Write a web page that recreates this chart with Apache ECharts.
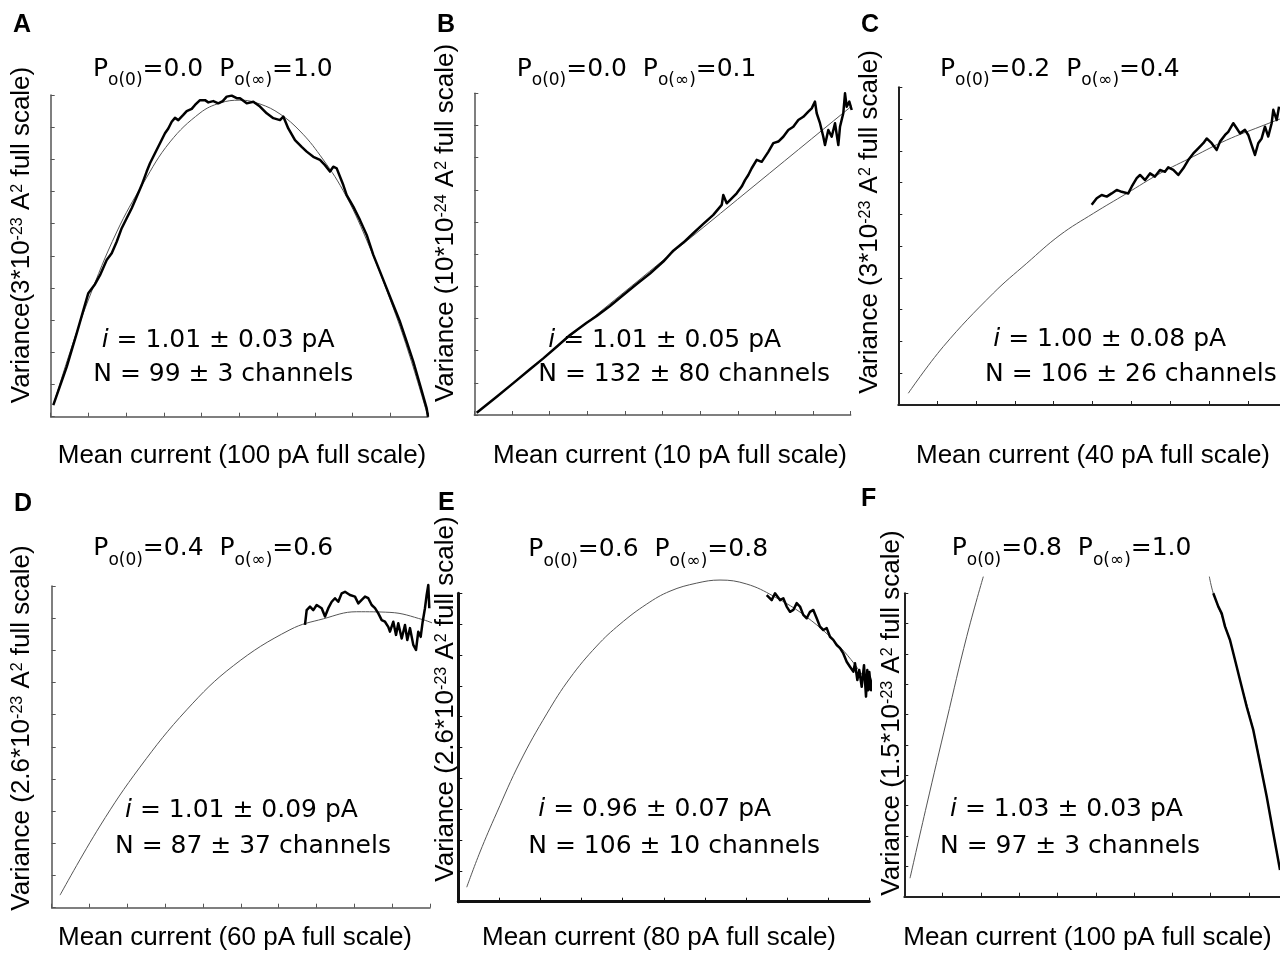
<!DOCTYPE html>
<html><head><meta charset="utf-8">
<script src="https://cdn.jsdelivr.net/npm/echarts@6/dist/echarts.min.js"></script>
<style>html,body{margin:0;padding:0;background:#fff}#c{width:1280px;height:959px}</style>
</head><body><div id="c"></div>
<script>
// ---- data (x: mean current in pA, y: variance as fraction of full scale) ----
const panelLetters = ['A','B','C','D','E','F'];
const fullScalePA = [100, 10, 40, 60, 80, 100];
const varScale = ['3', '10', '3', '2.6', '2.6', '1.5'];
const varExp = ['-23', '-24', '-23', '-23', '-23', '-23'];
const po0 = ['0.0', '0.0', '0.2', '0.4', '0.6', '0.8'];
const poInf = ['1.0', '0.1', '0.4', '0.6', '0.8', '1.0'];
const iVal = ['1.01 ± 0.03', '1.01 ± 0.05', '1.00 ± 0.08', '1.01 ± 0.09', '0.96 ± 0.07', '1.03 ± 0.03'];
const nVal = ['99 ± 3', '132 ± 80', '106 ± 26', '87 ± 37', '106 ± 10', '97 ± 3'];

const aData = [[0.69,0.036],[4.24,0.155],[6.89,0.259],[9.97,0.384],[11.74,0.412],[13.07,0.440],[14.84,0.487],[16.17,0.508],[17.49,0.544],[18.82,0.586],[20.14,0.617],[21.47,0.648],[22.79,0.684],[24.12,0.720],[25.44,0.762],[26.32,0.788],[27.64,0.819],[28.97,0.850],[30.29,0.881],[31.17,0.896],[32.07,0.917],[32.94,0.929],[33.82,0.922],[35.14,0.938],[36.05,0.950],[37.37,0.957],[38.25,0.969],[39.57,0.984],[40.90,0.984],[41.77,0.977],[43.10,0.981],[44.42,0.974],[45.59,0.981],[46.65,0.995],[47.97,0.998],[49.30,0.990],[50.17,0.990],[51.95,0.974],[53.70,0.979],[55.47,0.964],[57.25,0.943],[59.00,0.928],[60.77,0.922],[61.65,0.933],[62.97,0.896],[64.75,0.860],[66.52,0.839],[67.85,0.824],[69.60,0.808],[71.37,0.798],[72.70,0.782],[74.02,0.762],[74.90,0.777],[75.80,0.772],[77.55,0.720],[78.45,0.689],[80.20,0.653],[81.98,0.611],[83.75,0.565],[85.50,0.503],[87.28,0.451],[89.05,0.399],[90.80,0.347],[92.58,0.295],[94.35,0.233],[96.10,0.171],[97.88,0.099],[99.65,0.026],[100,0.0]];
const aFit = [[0.69,0.036],[5.12,0.201],[9.97,0.363],[17.49,0.574],[24.54,0.726],[31.62,0.854],[39.57,0.944],[44.87,0.975],[50.17,0.984],[55.47,0.972],[60.77,0.941],[66.07,0.888],[71.37,0.813],[77.55,0.702],[83.75,0.549],[90.80,0.338],[95.23,0.186],[100,0]];

const bData = [[0.064,0.007],[0.595,0.057],[1.036,0.099],[1.480,0.142],[1.833,0.176],[2.189,0.212],[2.543,0.249],[2.986,0.287],[3.252,0.308],[3.605,0.339],[3.959,0.373],[4.315,0.407],[4.668,0.440],[5.021,0.477],[5.287,0.511],[5.553,0.536],[5.818,0.565],[6.084,0.594],[6.350,0.622],[6.573,0.653],[6.615,0.684],[6.706,0.658],[6.793,0.668],[6.971,0.689],[7.104,0.710],[7.192,0.730],[7.280,0.746],[7.370,0.767],[7.503,0.793],[7.635,0.787],[7.811,0.818],[7.944,0.845],[8.077,0.850],[8.209,0.865],[8.342,0.886],[8.475,0.896],[8.608,0.917],[8.741,0.927],[8.874,0.943],[8.964,0.953],[9.051,0.974],[9.097,0.938],[9.184,0.907],[9.272,0.865],[9.317,0.839],[9.405,0.886],[9.495,0.865],[9.583,0.907],[9.671,0.839],[9.716,0.896],[9.803,0.938],[9.849,1.000],[9.894,0.958],[9.963,0.974],[10.027,0.948]];
const bFit = [[0.064,0.007],[10.20,0.977]];

const cData = [[19.92,0.630],[20.44,0.651],[20.95,0.661],[21.47,0.656],[21.98,0.666],[22.50,0.677],[23.01,0.671],[23.69,0.666],[24.04,0.687],[24.56,0.714],[24.90,0.724],[25.42,0.708],[25.93,0.729],[26.44,0.719],[26.96,0.740],[27.47,0.734],[27.81,0.748],[28.33,0.740],[28.84,0.724],[29.36,0.745],[29.87,0.771],[30.39,0.792],[30.90,0.808],[31.42,0.824],[31.77,0.839],[32.28,0.824],[32.80,0.803],[33.14,0.829],[33.66,0.850],[33.99,0.860],[34.51,0.887],[34.86,0.871],[35.20,0.855],[35.71,0.866],[36.05,0.850],[36.40,0.818],[36.74,0.787],[37.08,0.824],[37.43,0.839],[37.77,0.876],[38.11,0.845],[38.46,0.887],[38.63,0.929],[38.98,0.897],[39.22,0.939]];
const cFit = [[1.03,0.037],[4.64,0.184],[9.79,0.352],[13.23,0.446],[16.66,0.535],[20.09,0.603],[23.53,0.666],[26.96,0.729],[30.39,0.782],[33.83,0.834],[37.26,0.876],[39.83,0.906]];

const dData = [[40.17,0.879],[40.44,0.925],[40.97,0.936],[41.49,0.925],[42.03,0.941],[42.82,0.931],[43.35,0.905],[43.87,0.931],[44.41,0.951],[44.93,0.962],[45.45,0.951],[45.99,0.977],[46.52,0.982],[47.31,0.972],[48.10,0.967],[48.63,0.946],[49.17,0.957],[49.69,0.967],[50.21,0.962],[50.75,0.941],[51.28,0.931],[51.80,0.915],[52.34,0.894],[52.86,0.889],[53.38,0.873],[53.65,0.858],[54.18,0.889],[54.61,0.848],[54.97,0.884],[55.51,0.837],[56.03,0.879],[56.40,0.832],[56.83,0.869],[57.35,0.817],[57.78,0.801],[58.14,0.858],[58.52,0.842],[58.84,0.889],[59.20,0.931],[59.47,0.972],[59.73,1.003],[59.89,0.931]];
const dFit = [[1.32,0.039],[7.66,0.254],[14.00,0.437],[21.41,0.615],[28.80,0.752],[37.79,0.864],[43.08,0.898],[48.37,0.920],[53.65,0.918],[58.94,0.895],[61.06,0.879]];

const eData = [[60.03,0.994],[61.00,0.978],[61.65,1.000],[62.62,0.978],[63.26,0.984],[63.92,0.957],[64.57,0.940],[65.21,0.946],[65.87,0.968],[66.51,0.957],[67.15,0.930],[67.82,0.919],[68.46,0.940],[69.10,0.946],[69.76,0.919],[70.40,0.892],[71.05,0.881],[71.71,0.887],[72.35,0.859],[72.99,0.849],[73.66,0.832],[74.30,0.822],[74.94,0.805],[75.60,0.778],[76.24,0.762],[76.89,0.746],[77.22,0.773],[77.67,0.719],[78.05,0.751],[78.52,0.697],[78.97,0.767],[79.36,0.665],[79.61,0.751],[79.81,0.686],[80.00,0.745],[80.33,0.686],[80.72,0.725],[81.10,0.670],[81.49,0.706]];
const eFit = [[1.64,0.047],[4.22,0.161],[7.47,0.288],[12.01,0.453],[17.21,0.609],[21.74,0.725],[26.94,0.829],[31.48,0.900],[36.67,0.965],[41.21,1.007],[46.40,1.033],[50.94,1.043],[56.14,1.030],[61.31,0.991],[67.82,0.923],[74.30,0.826],[79.49,0.716],[82.09,0.648]];

const fFitLeft = [[1.49,0.061],[5.85,0.302],[11.07,0.582],[16.29,0.857],[20.63,1.055]];
const fFitRight = [[79.64,1.055],[80.68,1.000],[84.18,0.879],[87.65,0.714],[91.13,0.549],[94.62,0.330],[98.10,0.088]];
const fData = [[80.68,1.000],[81.99,0.956],[82.87,0.934],[83.74,0.890],[85.04,0.846],[86.79,0.758],[87.65,0.714],[89.40,0.626],[91.13,0.549],[92.88,0.440],[94.62,0.330],[96.35,0.209],[98.10,0.088]];

const fits = [[aFit], [bFit], [cFit], [dFit], [eFit], [fFitLeft, fFitRight]];
const traces = [aData, bData, cData, dData, eData, fData];

// ---- layout (pixels) ----
const L = [
 {grid:[50.7,95,377.3,321.7], aw:1.5, ac:'#555', letter:[13,25], title:[93,56.5], l1:[101.7,340], l2:[93.3,374], xname:[242,456], yname:[24,235], ySep:''},
 {grid:[474.3,93.3,376.4,321.7], aw:1.5, ac:'#555', letter:[437,25], title:[516.7,56.5], l1:[548.3,340], l2:[538.3,374], xname:[670,456], yname:[448,223], ySep:' '},
 {grid:[898.3,87.3,388.3,317.7], aw:2, ac:'#222', letter:[861,25], title:[940,56.5], l1:[993.3,339.5], l2:[985,374], xname:[1093,456], yname:[872,222], ySep:' '},
 {grid:[51.7,586,378.3,321.7], aw:1.5, ac:'#555', letter:[14,504], title:[93.3,536.3], l1:[125,810.5], l2:[115,846], xname:[235,937.5], yname:[24,728], ySep:' '},
 {grid:[458.3,593.3,411,308.4], aw:3, ac:'#111', letter:[438,503], title:[528.3,536.7], l1:[538.3,809.5], l2:[528.3,846], xname:[659,938], yname:[448,699], ySep:' '},
 {grid:[904.3,593.3,383,303.4], aw:2, ac:'#222', letter:[861,499], title:[951.7,536.3], l1:[950,809.5], l2:[940,846], xname:[1087.5,937.5], yname:[894,713], ySep:' '}
];

const SANS = '"Liberation Sans", Arial, sans-serif';
const DV = '"DejaVu Sans", sans-serif';

const grids = [], xAxes = [], yAxes = [], series = [], graphics = [];
L.forEach((p, i) => {
  grids.push({left:p.grid[0], top:p.grid[1], width:p.grid[2], height:p.grid[3], containLabel:false, outerBoundsMode:'none'});
  const axisCommon = {
    type:'value', gridIndex:i, min:0,
    axisLine:{show:true, onZero:false, lineStyle:{color:p.ac, width:p.aw}},
    axisTick:{show:true, inside:true, length:4, lineStyle:{color:p.ac, width:1}},
    axisLabel:{show:false}, splitLine:{show:false}
  };
  xAxes.push(Object.assign({}, axisCommon, {max:fullScalePA[i], interval:fullScalePA[i]/10}));
  yAxes.push(Object.assign({}, axisCommon, {max:1, interval:0.1}));
  fits[i].forEach(f => series.push({type:'line', xAxisIndex:i, yAxisIndex:i, data:f, showSymbol:false, symbol:'none', smooth:0.4, clip:false, silent:true, lineStyle:{color:'#555', width:1}, z:2}));
  series.push({type:'line', xAxisIndex:i, yAxisIndex:i, data:traces[i], showSymbol:false, symbol:'none', clip:false, silent:true, lineStyle:{color:'#000', width:2.5, join:'round'}, z:3});

  graphics.push({type:'text', x:p.letter[0], y:p.letter[1], style:{text:panelLetters[i], fill:'#000', font:'bold 25px ' + SANS, align:'left', verticalAlign:'middle'}});
  graphics.push({type:'text', x:p.title[0], y:p.title[1], style:{
    text:'{m|P}{s|o(0)}{m|=' + po0[i] + '  P}{s|o(∞)}{m|=' + poInf[i] + '}',
    align:'left', verticalAlign:'top', fill:'#000',
    rich:{ m:{fontSize:25, fontFamily:DV, lineHeight:30, verticalAlign:'top', fill:'#000'},
           s:{fontSize:17, fontFamily:DV, lineHeight:17, padding:[16,0,0,0], verticalAlign:'top', fill:'#000'} }
  }});
  graphics.push({type:'text', x:p.l1[0], y:p.l1[1], style:{
    text:'{it|i}{m| = ' + iVal[i] + ' pA}', align:'left', verticalAlign:'middle', fill:'#000',
    rich:{ it:{fontSize:25, fontFamily:DV, fontStyle:'italic', lineHeight:30, fill:'#000'},
           m:{fontSize:25, fontFamily:DV, lineHeight:30, fill:'#000'} }
  }});
  graphics.push({type:'text', x:p.l2[0], y:p.l2[1], style:{
    text:'N = ' + nVal[i] + ' channels', align:'left', verticalAlign:'middle', fill:'#000', font:'25px ' + DV
  }});
  graphics.push({type:'text', x:p.xname[0], y:p.xname[1], style:{
    text:'Mean current (' + fullScalePA[i] + ' pA full scale)', align:'center', verticalAlign:'middle', fill:'#000', font:'26px ' + SANS
  }});
  graphics.push({type:'text', x:p.yname[0], y:p.yname[1], rotation:Math.PI/2, style:{
    text:'{n|Variance' + p.ySep + '(' + varScale[i] + '*10}{sup|' + varExp[i] + '}{n| A}{sup|2}{n| full scale)}',
    align:'center', verticalAlign:'middle', fill:'#000',
    rich:{ n:{fontSize:26, fontFamily:SANS, lineHeight:30, verticalAlign:'top', fill:'#000'},
           sup:{fontSize:16, fontFamily:SANS, lineHeight:16, padding:[1,0,0,0], verticalAlign:'top', fill:'#000'} }
  }});
});

const chart = echarts.init(document.getElementById('c'), null, {renderer:'canvas'});
chart.setOption({
  animation:false,
  backgroundColor:'#fff',
  grid:grids, xAxis:xAxes, yAxis:yAxes, series:series, graphic:graphics
});
</script></body></html>
